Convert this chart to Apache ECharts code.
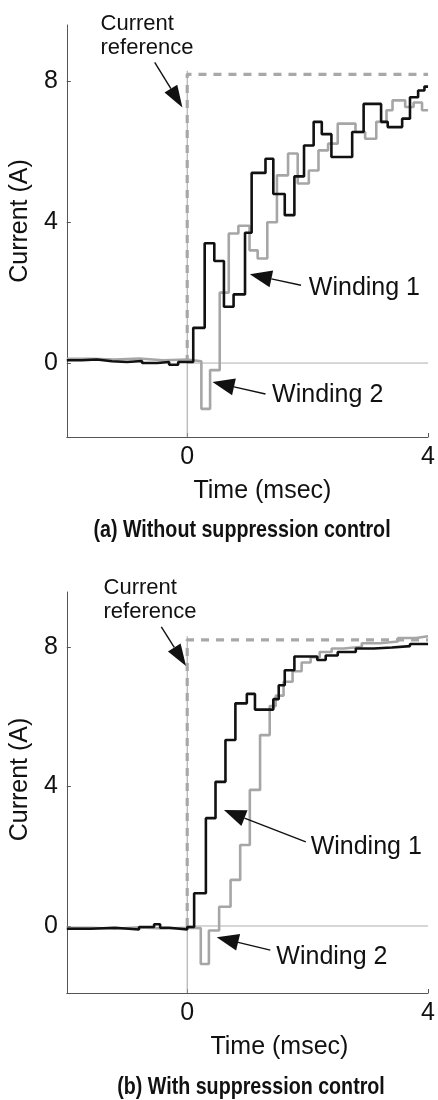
<!DOCTYPE html>
<html><head><meta charset="utf-8">
<script src="https://cdn.jsdelivr.net/npm/echarts@6/dist/echarts.min.js"></script>
<style>html,body{margin:0;padding:0;background:#fff}#c{width:438px;height:1100px}</style>
</head><body><div id="c"></div>
<script>
// ---------- data ----------
const xTicks = [0, 4];
const yTicks = [0, 4, 8];
const xRange = [-2, 4];
const yRangeA = [-2.1, 9.6];
const yRangeB = [-1.92, 9.57];
const refLevel = 8.2;
const zeroLine = [[0, 0], [4, 0]];
const refStep = [[0, 0], [0, refLevel], [4, refLevel]];

// (a) Without suppression control : [time msec, current A], value holds until next time
const winding1A = [[-2,0.08],[-1.75,0.1],[-1.5,0.05],[-1.25,0.03],[-1.0,0.06],[-0.75,0.0],[-0.5,0.03],[-0.3,-0.05],[-0.15,0.03],
  [0.1,1.0],[0.29,3.4],[0.45,2.9],[0.61,1.6],[0.77,1.95],[0.96,3.7],[1.07,5.4],[1.3,5.8],[1.43,4.8],[1.62,4.2],
  [1.78,5.3],[1.94,6.18],[2.1,6.85],[2.235,6.5],[2.395,5.85],[2.74,6.56],[2.93,7.36],[3.22,6.85],[3.33,6.7],
  [3.57,6.94],[3.7,7.55],[3.835,7.74],[3.94,7.85],[4.0,7.85]];
const winding2A = [[-2,0.12],[-1.6,0.1],[-1.2,0.13],[-0.8,0.08],[-0.4,0.1],[0,0.05],
  [0.235,-1.3],[0.38,-0.2],[0.54,2.0],[0.69,3.68],[0.85,3.9],[1.035,3.2],[1.17,2.97],[1.33,4.0],[1.49,5.33],
  [1.675,5.95],[1.835,5.1],[2.02,5.47],[2.18,6.04],[2.34,6.23],[2.5,6.8],[2.795,6.56],[2.955,6.37],[3.14,6.85],
  [3.31,7.18],[3.41,7.46],[3.62,7.27],[3.76,7.4],[3.9,7.18],[4.0,7.18]];

// (b) With suppression control
const winding1B = [[-2,-0.08],[-1.6,-0.05],[-1.2,-0.1],[-0.8,-0.03],[-0.55,0.05],[-0.45,-0.05],[-0.3,-0.1],[0,-0.03],
  [0.115,0.94],[0.31,3.09],[0.47,4.13],[0.635,5.33],[0.8,6.38],[0.99,6.65],[1.125,6.2],[1.43,6.5],[1.52,6.9],
  [1.62,7.33],[1.78,7.72],[2.16,7.62],[2.3,7.75],[2.5,7.85],[2.8,7.95],[3.1,7.98],[3.4,8.02],[3.7,8.08],[4.0,8.08]];
const winding2B = [[-2,-0.05],[-1.6,-0.08],[-1.2,-0.04],[-0.8,-0.07],[-0.4,-0.05],[0,-0.06],
  [0.225,-1.09],[0.36,-0.13],[0.53,0.55],[0.72,1.32],[0.88,2.32],[1.04,3.9],[1.21,5.47],[1.37,6.3],[1.47,6.6],
  [1.6,7.0],[1.75,7.3],[1.9,7.55],[2.05,7.7],[2.2,7.85],[2.4,7.95],[2.6,8.0],[2.9,8.1],[3.2,8.15],[3.5,8.25],
  [3.8,8.3],[4.0,8.3]];

// annotation anchors in data units: [text anchor, arrow tail, arrow tip]
const refNoteA = [[-1.44, 9.3], [-0.54, 8.54], [-0.08, 7.26]];
const w1NoteA  = [[2.02, 2.13], [1.89, 2.21], [1.04, 2.52]];
const w2NoteA  = [[1.41, -0.91], [1.30, -0.88], [0.42, -0.54]];
const refNoteB = [[-1.39, 9.34], [-0.43, 8.57], [-0.02, 7.45]];
const w1NoteB  = [[2.05, 2.26], [1.97, 2.41], [0.61, 3.32]];
const w2NoteB  = [[1.48, -0.89], [1.38, -0.69], [0.49, -0.32]];

const captions = ['(a) Without suppression control', '(b) With suppression control'];

// ---------- chart ----------
const FONT = "'Liberation Sans', Arial, Helvetica, sans-serif";
const AXC = '#555';
const chart = echarts.init(document.getElementById('c'));

function xAx(gi, padL) {
  return {type:'value', gridIndex:gi, min:xRange[0], max:xRange[1],
    axisLine:{show:true, onZero:false, lineStyle:{color:AXC, width:1}},
    axisTick:{show:true, inside:true, length:4, customValues:xTicks, lineStyle:{color:AXC}},
    axisLabel:{customValues:xTicks, margin:8, fontSize:25, color:'#111', fontFamily:FONT},
    splitLine:{show:false},
    name:'Time (msec)', nameLocation:'middle', nameGap:42,
    nameTextStyle:{fontSize:25, color:'#111', fontFamily:FONT, padding:[0,0,0,padL]}};
}
function yAx(gi, rng, padL) {
  return {type:'value', gridIndex:gi, min:rng[0], max:rng[1],
    axisLine:{show:true, onZero:false, lineStyle:{color:AXC, width:1}},
    axisTick:{show:true, inside:true, length:4, customValues:yTicks, lineStyle:{color:AXC}},
    axisLabel:{customValues:yTicks, margin:9, fontSize:25, color:'#111', fontFamily:FONT},
    splitLine:{show:false},
    name:'Current (A)', nameLocation:'middle', nameGap:28, nameRotate:90,
    nameTextStyle:{fontSize:25, color:'#111', fontFamily:FONT, padding:[0,0,0,padL]}};
}
function ln(gi, data, color, width, extra) {
  return Object.assign({type:'line', xAxisIndex:gi, yAxisIndex:gi, data:data, showSymbol:false, symbol:'none',
    animation:false, silent:true, lineStyle:{color:color, width:width}}, extra || {});
}
function seriesFor(gi, yMin, w1, w2) {
  return [
    ln(gi, zeroLine, '#b0b0b0', 1),
    ln(gi, [[0, yMin], [0, refLevel + 0.1]], '#a0a0a0', 1),
    ln(gi, refStep, '#a8a8a8', 3.2, {lineStyle:{color:'#a8a8a8', width:3.2, type:[8,7]}}),
    ln(gi, w2, '#a6a6a6', 2.6, {step:'end'}),
    ln(gi, w1, '#111111', 2.6, {step:'end'})
  ];
}

chart.setOption({
  backgroundColor:'#fff',
  animation:false,
  grid:[
    {left:64, right:1, top:25, height:412},
    {left:66, right:6, top:592, height:401}
  ],
  xAxis:[xAx(0, 30), xAx(1, 64)],
  yAxis:[yAx(0, yRangeA, 20), yAx(1, yRangeB, 26)],
  series: seriesFor(0, yRangeA[0], winding1A, winding2A).concat(seriesFor(1, yRangeB[0], winding1B, winding2B))
});

function px(gi, p) { return chart.convertToPixel({gridIndex:gi}, p); }
function note(gi, anchors, text, fontSize, lineH, headL, headW) {
  const t = px(gi, anchors[0]), a = px(gi, anchors[1]), b = px(gi, anchors[2]);
  const dx = b[0]-a[0], dy = b[1]-a[1], len = Math.hypot(dx, dy);
  const ux = dx/len, uy = dy/len, nx = -uy, ny = ux;
  const bx = b[0]-ux*headL, by = b[1]-uy*headL;
  return [
    {type:'text', x:t[0], y:t[1], z:100,
     style:{text:text, font:fontSize+'px '+FONT, fill:'#111', textVerticalAlign:'middle', lineHeight:lineH}},
    {type:'line', z:100, shape:{x1:a[0], y1:a[1], x2:bx, y2:by}, style:{stroke:'#111', lineWidth:1.4}},
    {type:'polygon', z:100, shape:{points:[[b[0],b[1]],[bx+nx*headW/2, by+ny*headW/2],[bx-nx*headW/2, by-ny*headW/2]]},
     style:{fill:'#111'}}
  ];
}
function caption(text, cx, cy) {
  return {type:'text', x:cx, y:cy, scaleX:0.82, z:100,
    style:{text:text, font:'bold 24px '+FONT, fill:'#111', textAlign:'center', textVerticalAlign:'middle'}};
}
const g = [].concat(
  note(0, refNoteA, 'Current\nreference', 22, 24, 22, 15),
  note(0, w1NoteA, 'Winding 1', 25, 28, 22, 17),
  note(0, w2NoteA, 'Winding 2', 25, 28, 22, 17),
  note(1, refNoteB, 'Current\nreference', 22, 24, 22, 15),
  note(1, w1NoteB, 'Winding 1', 25, 28, 22, 17),
  note(1, w2NoteB, 'Winding 2', 25, 28, 22, 17),
  [caption(captions[0], 242, 530), caption(captions[1], 251, 1087)]
);
chart.setOption({graphic:g});
</script></body></html>
